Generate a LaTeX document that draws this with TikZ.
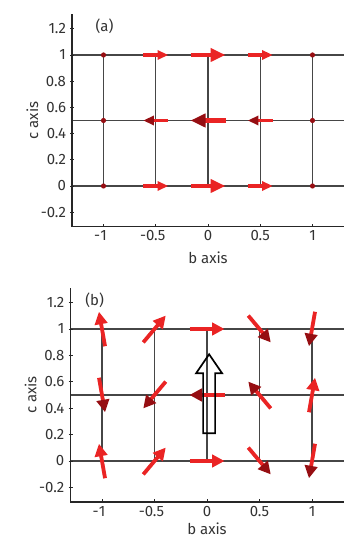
\documentclass[tikz,border=0pt]{standalone}
\usepackage{fontspec}
\setmainfont{Fira Sans}
\usepackage{tikz}
\usetikzlibrary{arrows.meta}
\definecolor{SpinR}{RGB}{234,36,36}
\definecolor{SpinD}{RGB}{150,14,18}
\definecolor{GridG}{RGB}{70,70,70}
\tikzset{
  axisline/.style={line width=1.7bp,black!85},
  gridline/.style={line width=1.1bp,GridG},
  ticklab/.style={font=\fontsize{15}{17}\selectfont,text=black!80,inner sep=1pt},
  spin/.style={SpinR,line width=#1},
  headR/.style={-{Triangle[length=12.5bp,width=12.5bp,color=SpinR]}},
  headD/.style={-{Triangle[length=12.5bp,width=12.5bp,color=SpinD]}},
  hollow/.style={line width=1.7bp,black,line join=miter},
}
% axes, grid and labels of one panel: #1 tag, #2 tag position, #3 name prefix, #4 height of b label
\newcommand{\latticeaxes}[4]{%
  \draw[gridline] (-1.3,0) -- (1.3,0) (-1.3,0.5) -- (1.3,0.5) (-1.3,1) -- (1.3,1);
  \foreach \b in {-1,-0.5,0,0.5,1} \draw[gridline] (\b,0) -- (\b,1);
  \draw[axisline] (-1.3,1.31) -- (-1.3,-0.31) -- (1.3,-0.31);
  \foreach \c [count=\i] in {-0.2,0,0.2,0.4,0.6,0.8,1,1.2}{
    \draw[axisline,line width=0.8bp] (-1.3,\c) ++(-2bp,0) -- ++(4bp,0);
    \node[ticklab,anchor=east,xshift=-5bp] (#3y\i) at (-1.3,\c) {\c};
  }
  \foreach \b/\t [count=\i] in {-1/\llap{-}1,-0.5/\llap{-}0.5,0/0,0.5/0.5,1/1}{
    \draw[axisline,line width=0.8bp] (\b,-0.31) -- ++(0,3bp);
    \node[ticklab,anchor=north,yshift=-3bp] (#3x\i) at (\b,-0.31) {\t};
  }
  \node[ticklab] (#3blab) at (0,#4) {b axis};
  \node[ticklab,rotate=90] (#3clab) at (-1.68,0.5) {c axis};
  \node[ticklab] (#3tag) at (#2,1.22) {#1};
}

\begin{document}
\begin{tikzpicture}
  \useasboundingbox (0,0) rectangle (353bp,538bp);
  % (a) collinear modulation
  \begin{scope}[shift={(208bp,352bp)},x=104.5bp,y=131bp]
    \latticeaxes{(a)}{-0.99}{a}{-0.55}
    \foreach \b/\m in {-0.5/0.71,0/1,0.5/0.71}{
      \pgfmathsetmacro\w{4.4*\m}
      \pgfmathsetmacro\hl{15*\m}
      \pgfmathsetmacro\hw{13*\m}
      \pgfmathsetmacro\hs{17.5*\m}
      \pgfmathsetmacro\al{35*\m}
      \foreach \c in {0,1}
        \draw[spin=\w bp,-{Triangle[length=\hl bp,width=\hw bp,color=SpinR]}]
          (\b,\c) ++(-\hs bp,0) -- ++(\al bp,0);
      \draw[spin=\w bp,-{Triangle[length=\hl bp,width=\hw bp,color=SpinD]}]
        (\b,0.5) ++(\hs bp,0) -- ++(-\al bp,0);
    }
    \foreach \b in {-1,1}
      \foreach \c in {0,0.5,1}
        \fill[SpinD] (\b,\c) circle (2.6bp);
  \end{scope}
  % (b) cycloidal modulation
  \begin{scope}[shift={(207bp,77bp)},x=105bp,y=132bp]
    \latticeaxes{(b)}{-1.07}{b}{-0.51}
    \foreach \b in {-1,-0.5,0,0.5,1}
      \foreach \c/\s in {0/0,0.5/180,1/0}{
        \pgfmathsetmacro\ang{-100*\b+\s}
        \pgfmathtruncatemacro\dk{(sin(\ang)<-0.5 || cos(\ang)<-0.5) ? 1 : 0}
        \ifnum\dk=1
          \draw[spin=3.8bp,headD] (\b,\c) ++(\ang+180:17.5bp) -- ++(\ang:35bp);
        \else
          \draw[spin=3.8bp,headR] (\b,\c) ++(\ang+180:17.5bp) -- ++(\ang:35bp);
        \fi
      }
    \begin{scope}[shift={(0.02,0.21)},x=1bp,y=1bp]
      \draw[hollow] (-6,0) -- (6,0) -- (6,60) -- (13,60) -- (0,79)
        -- (-13,60) -- (-6,60) -- cycle;
    \end{scope}
  \end{scope}
\end{tikzpicture}
\end{document}
